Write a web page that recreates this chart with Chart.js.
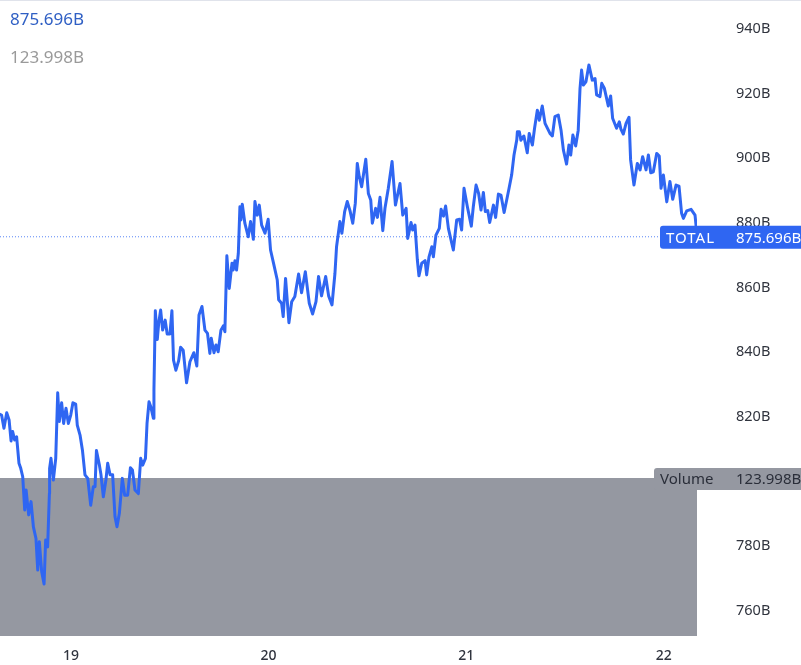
<!DOCTYPE html>
<html>
<head>
<meta charset="utf-8">
<title>TOTAL</title>
<script src="https://cdn.jsdelivr.net/npm/chart.js@4"></script>
<style>
  html, body { margin: 0; padding: 0; background: #fff; }
  body { width: 801px; height: 665px; position: relative; overflow: hidden; font-family: "Noto Sans", sans-serif; }
  #topLine { position: absolute; left: 0; top: 0; width: 801px; height: 1px; background: #e0e3eb; }
  .legendValue { position: absolute; left: 10px; font-size: 17px; line-height: 20px; }
  #priceValue { top: 9px; color: #2f5fc4; }
  #volumeValue { top: 47px; color: #9a9a9a; }
  canvas { display: block; }
</style>
</head>
<body>
<canvas id="chart" width="801" height="665"></canvas>
<div id="topLine"></div>
<div class="legendValue" id="priceValue"></div>
<div class="legendValue" id="volumeValue"></div>
<script>
const dayTicks = [19, 20, 21, 22];
const priceTicks = [760, 780, 800, 820, 840, 860, 880, 900, 920, 940];
const lastPrice = 875.696;
const lastVolume = 123.998;
const seriesName = "TOTAL";
const volumeName = "Volume";

// days of the month
const times = [
  18.641, 18.649, 18.661, 18.675, 18.687, 18.697, 18.705, 18.715, 18.725, 18.737,
  18.746, 18.756, 18.766, 18.773, 18.786, 18.798, 18.810, 18.823, 18.832, 18.840,
  18.852, 18.864, 18.872, 18.882, 18.891, 18.892, 18.899, 18.911, 18.923, 18.933,
  18.941, 18.953, 18.963, 18.975, 18.987, 18.999, 19.010, 19.024, 19.032, 19.046,
  19.058, 19.071, 19.085, 19.100, 19.113, 19.122, 19.129, 19.144, 19.152, 19.164,
  19.177, 19.186, 19.198, 19.211, 19.223, 19.233, 19.245, 19.260, 19.272, 19.287,
  19.301, 19.311, 19.324, 19.341, 19.353, 19.363, 19.377, 19.385, 19.395, 19.404,
  19.417, 19.420, 19.427, 19.437, 19.444, 19.454, 19.464, 19.477, 19.487, 19.501,
  19.511, 19.519, 19.531, 19.545, 19.555, 19.568, 19.585, 19.602, 19.622, 19.637,
  19.648, 19.663, 19.678, 19.691, 19.703, 19.710, 19.724, 19.734, 19.745, 19.759,
  19.771, 19.779, 19.789, 19.801, 19.815, 19.821, 19.830, 19.838, 19.847, 19.855,
  19.860, 19.867, 19.880, 19.897, 19.909, 19.923, 19.931, 19.943, 19.953, 19.965,
  19.982, 19.998, 20.010, 20.027, 20.044, 20.051, 20.066, 20.074, 20.086, 20.103,
  20.117, 20.133, 20.152, 20.167, 20.186, 20.206, 20.223, 20.240, 20.253, 20.268,
  20.289, 20.304, 20.321, 20.336, 20.344, 20.361, 20.371, 20.385, 20.398, 20.412,
  20.426, 20.439, 20.449, 20.459, 20.471, 20.492, 20.505, 20.517, 20.525, 20.542,
  20.551, 20.564, 20.578, 20.589, 20.606, 20.625, 20.642, 20.665, 20.679, 20.696,
  20.704, 20.721, 20.729, 20.741, 20.753, 20.761, 20.775, 20.792, 20.800, 20.812,
  20.826, 20.834, 20.847, 20.864, 20.873, 20.885, 20.896, 20.910, 20.927, 20.935,
  20.952, 20.966, 20.977, 20.989, 21.006, 21.026, 21.036, 21.050, 21.063, 21.075,
  21.087, 21.097, 21.109, 21.119, 21.138, 21.149, 21.163, 21.176, 21.192, 21.205,
  21.217, 21.230, 21.242, 21.256, 21.259, 21.269, 21.277, 21.292, 21.309, 21.319,
  21.335, 21.346, 21.360, 21.370, 21.385, 21.399, 21.424, 21.436, 21.449, 21.466,
  21.480, 21.492, 21.508, 21.520, 21.529, 21.540, 21.554, 21.567, 21.576, 21.584,
  21.593, 21.606, 21.621, 21.638, 21.652, 21.660, 21.677, 21.686, 21.699, 21.719,
  21.731, 21.741, 21.761, 21.775, 21.783, 21.795, 21.809, 21.824, 21.832, 21.849,
  21.866, 21.880, 21.893, 21.910, 21.922, 21.934, 21.947, 21.964, 21.977, 21.986,
  21.998, 22.015, 22.031, 22.045, 22.062, 22.077, 22.090, 22.099, 22.116, 22.138,
  22.158, 22.163, 22.164
];

// total value in billions
const prices = [
  820.7, 820.5, 816.4, 821.2, 819.0, 812.5, 815.4, 812.8, 813.8, 805.6,
  804.0, 801.4, 791.1, 797.3, 789.6, 793.7, 785.9, 782.3, 772.5, 781.3,
  772.0, 768.2, 781.8, 779.7, 796.2, 804.0, 807.1, 800.4, 807.1, 827.4,
  818.5, 824.3, 817.9, 822.6, 817.9, 820.5, 824.3, 823.9, 817.4, 814.3,
  809.7, 802.0, 800.9, 792.6, 798.3, 798.3, 809.5, 805.0, 802.0, 795.2,
  800.4, 805.6, 802.0, 802.0, 789.0, 785.9, 790.1, 800.9, 795.7, 795.7,
  804.2, 803.5, 797.3, 796.2, 807.1, 805.0, 807.1, 817.9, 824.6, 823.1,
  819.5, 828.3, 852.8, 843.9, 848.9, 853.0, 846.8, 849.9, 845.6, 845.6,
  852.8, 837.5, 834.4, 837.3, 841.5, 840.6, 830.5, 837.0, 839.8, 835.7,
  851.5, 854.1, 846.8, 845.8, 839.6, 844.3, 839.8, 842.2, 840.1, 846.8,
  848.1, 846.3, 869.8, 859.7, 867.5, 865.4, 868.3, 865.4, 870.6, 885.0,
  880.9, 885.8, 879.9, 875.7, 880.4, 874.9, 886.6, 882.4, 885.5, 879.3,
  876.8, 881.1, 871.6, 867.0, 862.3, 856.2, 855.1, 851.0, 862.8, 849.1,
  855.6, 857.2, 864.2, 858.4, 864.9, 855.1, 851.8, 855.6, 863.4, 857.4,
  863.4, 857.4, 854.6, 864.4, 872.6, 880.4, 876.8, 883.5, 886.6, 883.8,
  879.9, 886.1, 898.4, 894.3, 891.2, 899.7, 889.1, 887.1, 879.9, 884.5,
  881.7, 887.9, 877.6, 884.5, 890.7, 899.0, 885.5, 892.2, 882.4, 884.5,
  875.2, 880.1, 877.8, 879.3, 868.5, 863.6, 867.5, 868.3, 863.9, 869.5,
  872.6, 869.5, 876.2, 878.3, 884.2, 882.1, 885.2, 878.3, 873.7, 871.6,
  880.9, 881.1, 877.8, 890.7, 885.0, 879.0, 885.0, 891.7, 889.1, 884.0,
  889.4, 883.5, 883.8, 880.1, 885.5, 881.7, 888.9, 888.6, 883.2, 887.1,
  890.7, 894.8, 901.0, 905.7, 908.2, 908.2, 905.6, 906.9, 901.7, 907.7,
  904.1, 909.3, 914.9, 911.8, 916.2, 910.8, 907.7, 906.9, 912.9, 913.4,
  908.7, 902.5, 898.2, 904.1, 901.0, 907.2, 903.8, 908.7, 921.6, 927.3,
  922.7, 923.7, 928.9, 924.2, 924.7, 919.6, 919.1, 923.2, 921.7, 916.2,
  919.3, 912.4, 909.3, 911.3, 909.0, 907.5, 910.8, 912.7, 899.5, 891.7,
  898.4, 896.4, 900.5, 896.4, 901.0, 895.5, 895.8, 901.5, 900.7, 890.7,
  894.8, 886.5, 892.8, 887.3, 891.7, 891.4, 883.0, 881.4, 883.7, 884.2,
  882.4, 879.3, 875.696
];

const xMin = 18.641;
const xMax = 22.168;
const lineBlue = "#2f66f2";
const volumeGrey = "#9598a1";
const textFont = '"Noto Sans", sans-serif';

document.getElementById("priceValue").textContent = lastPrice.toFixed(3) + "B";
document.getElementById("volumeValue").textContent = lastVolume.toFixed(3) + "B";

function drawTag(ctx, left, top, bottom, fill, textColor, name, value, spacing) {
  ctx.save();
  ctx.fillStyle = fill;
  ctx.beginPath();
  ctx.roundRect(left, top, 801 - left + 4, bottom - top, 3);
  ctx.fill();
  ctx.fillStyle = textColor;
  ctx.font = "15px " + textFont;
  ctx.textBaseline = "middle";
  ctx.textAlign = "left";
  ctx.letterSpacing = spacing;
  ctx.fillText(name, left + 6, (top + bottom) / 2 + 1);
  ctx.letterSpacing = "0px";
  ctx.fillText(value.toFixed(3) + "B", 736, (top + bottom) / 2 + 1);
  ctx.restore();
}

// the two last-value tags on the price axis
const tagsPlugin = {
  id: "tags",
  afterDraw(chart) {
    const ctx = chart.ctx;
    const priceY = chart.scales.y.getPixelForValue(lastPrice);
    drawTag(ctx, 660, priceY - 11, priceY + 12, lineBlue, "#ffffff", seriesName, lastPrice, "1px");
    const volY = chart.scales.volume.getPixelForValue(lastVolume);
    drawTag(ctx, 654, volY - 10, volY + 12, volumeGrey, "#2a2e39", volumeName, lastVolume, "0px");
  },
};

new Chart(document.getElementById("chart").getContext("2d"), {
  type: "line",
  data: {
    datasets: [
      {
        label: seriesName,
        data: times.map((t, i) => ({ x: t, y: prices[i] })),
        borderColor: lineBlue,
        borderWidth: 3,
        borderJoinStyle: "round", // miter joins overshoot the sharp spikes
        borderCapStyle: "round",
        pointRadius: 0,
        tension: 0,
        order: 1,
      },
      {
        label: "last",
        data: [{ x: xMin, y: lastPrice }, { x: xMax, y: lastPrice }],
        borderColor: "rgba(47, 102, 242, 0.8)",
        borderWidth: 1,
        borderDash: [1, 2],
        pointRadius: 0,
        order: 2,
      },
      {
        label: volumeName,
        yAxisID: "volume",
        data: [{ x: xMin, y: lastVolume }, { x: xMax, y: lastVolume }],
        borderWidth: 0,
        backgroundColor: volumeGrey,
        fill: "origin",
        pointRadius: 0,
        order: 3,
      },
    ],
  },
  options: {
    responsive: false,
    animation: false,
    devicePixelRatio: 1,
    layout: { padding: 0 },
    plugins: { legend: { display: false }, tooltip: { enabled: false } },
    scales: {
      x: {
        type: "linear",
        min: xMin,
        max: xMax,
        grid: { display: false, drawTicks: false },
        border: { display: false },
        afterBuildTicks: (scale) => { scale.ticks = dayTicks.map((d) => ({ value: d })); },
        afterFit: (scale) => { scale.height = 29; },
        ticks: {
          autoSkip: false,
          maxRotation: 0,
          padding: 12,
          color: "#30343e",
          font: { family: textFont, size: 14, weight: "500" },
          callback: (v) => String(v),
        },
      },
      y: {
        position: "right",
        min: 752.1,
        max: 949,
        grid: { display: false, drawTicks: false },
        border: { display: false },
        afterBuildTicks: (scale) => { scale.ticks = priceTicks.map((v) => ({ value: v })); },
        afterFit: (scale) => {
          scale.width = 104;
          // tick padding would otherwise also shrink the plot height
          scale.paddingTop = 0;
          scale.paddingBottom = 0;
        },
        ticks: {
          autoSkip: false,
          padding: 39,
          color: "#30343e",
          font: { family: textFont, size: 14.5 },
          callback: (v) => v + "B",
        },
      },
      volume: { display: false, min: 0, max: 499 },
    },
  },
  plugins: [tagsPlugin],
});
</script>
</body>
</html>
